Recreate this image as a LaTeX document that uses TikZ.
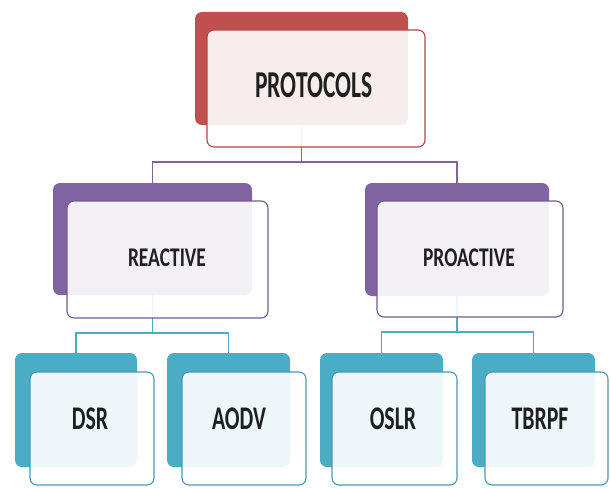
\documentclass[tikz,border=0pt]{standalone}
\usepackage{fontspec}
\setmainfont{Carlito}
\usetikzlibrary{backgrounds}
\definecolor{cred}{HTML}{C0504D}
\definecolor{cpurp}{HTML}{8064A2}
\definecolor{cteal}{HTML}{4BACC6}
\begin{document}
\begin{tikzpicture}[x=1pt,y=-1pt,
  back/.style={draw=none, fill=#1, rounded corners=7pt, inner sep=0pt, outer sep=0pt, anchor=north west},
  front/.style={draw=#1!90!black, line width=1.1pt, fill=white, fill opacity=0.9, rounded corners=7pt, inner sep=0pt, outer sep=0pt, anchor=north west},
  lbl/.style={font=\bfseries, text=black!88, inner sep=0pt},
  conn/.style={draw=#1, line width=1.4pt}
]
\useasboundingbox (0,0) rectangle (610,487);
% level 0
\node[back=cred, minimum width=213pt, minimum height=113pt] (pb) at (195,12) {};
\node[front=cred, minimum width=218pt, minimum height=117pt] (pf) at (207,30) {};
\node[lbl, font=\bfseries\fontsize{38}{40}\selectfont] (pt) at (314,85) {\scalebox{0.62}[1]{PROTOCOLS}};
% level 1
\node[back=cpurp, minimum width=199pt, minimum height=112pt] (rb) at (53,183) {};
\node[front=cpurp, minimum width=201pt, minimum height=117pt] (rf) at (67,201) {};
\node[lbl, font=\bfseries\fontsize{27}{29}\selectfont] (rt) at (167,258) {\scalebox{0.72}[1]{REACTIVE}};
\node[back=cpurp, minimum width=184pt, minimum height=113pt] (qb) at (365,183) {};
\node[front=cpurp, minimum width=186pt, minimum height=116pt] (qf) at (377,201) {};
\node[lbl, font=\bfseries\fontsize{27}{29}\selectfont] (qt) at (469,258) {\scalebox{0.72}[1]{PROACTIVE}};
% level 2
\node[back=cteal, minimum width=122pt, minimum height=114pt] (db) at (15,353) {};
\node[front=cteal, minimum width=124pt, minimum height=113pt] (df) at (30,372) {};
\node[lbl, font=\bfseries\fontsize{33}{35}\selectfont] (dt) at (90,419) {\scalebox{0.66}[1]{DSR}};
\node[back=cteal, minimum width=123pt, minimum height=114pt] (ab) at (167,353) {};
\node[front=cteal, minimum width=124pt, minimum height=113pt] (af) at (182,372) {};
\node[lbl, font=\bfseries\fontsize{33}{35}\selectfont] (at) at (239,419) {\scalebox{0.66}[1]{AODV}};
\node[back=cteal, minimum width=123pt, minimum height=114pt] (ob) at (320,353) {};
\node[front=cteal, minimum width=125pt, minimum height=113pt] (of) at (332,372) {};
\node[lbl, font=\bfseries\fontsize{33}{35}\selectfont] (ot) at (393,419) {\scalebox{0.66}[1]{OSLR}};
\node[back=cteal, minimum width=123pt, minimum height=114pt] (tb) at (472,353) {};
\node[front=cteal, minimum width=123pt, minimum height=113pt] (tf) at (485,372) {};
\node[lbl, font=\bfseries\fontsize{33}{35}\selectfont] (tt) at (540,419) {\scalebox{0.66}[1]{TBRPF}};
% connectors
\begin{pgfonlayer}{background}
\path (pb.center |- pf.south) ++(0,15) coordinate (j0);
\draw[conn=cpurp] (pb.center) -- (j0);
\draw[conn=cpurp] (j0) -| (rb.center);
\draw[conn=cpurp] (j0) -| (qb.center);
\path (rb.center |- rf.south) ++(0,15) coordinate (j1);
\draw[conn=cteal] (rb.center) -- (j1);
\draw[conn=cteal] (j1) -| (db.center);
\draw[conn=cteal] (j1) -| (ab.center);
\path (qb.center |- qf.south) ++(0,15) coordinate (j2);
\draw[conn=cteal] (qb.center) -- (j2);
\draw[conn=cteal] (j2) -| (ob.center);
\draw[conn=cteal] (j2) -| (tb.center);
\end{pgfonlayer}
\end{tikzpicture}
\end{document}
